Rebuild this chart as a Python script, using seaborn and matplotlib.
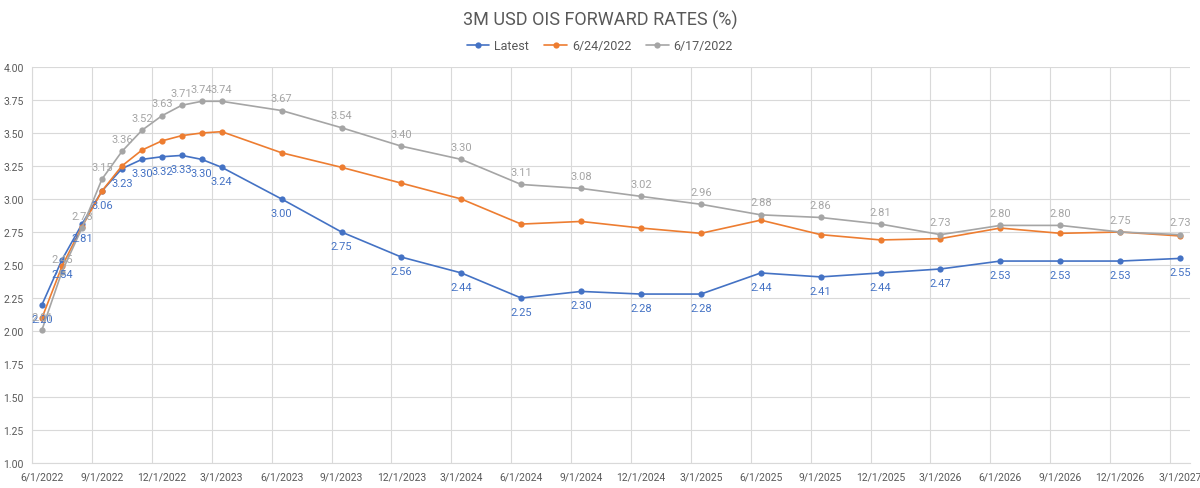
import matplotlib
matplotlib.use("Agg")
import matplotlib.pyplot as plt
import seaborn as sns
import pandas as pd
import numpy as np

dates = ["6/1/2022", "7/1/2022", "8/1/2022", "9/1/2022", "10/1/2022", "11/1/2022",
         "12/1/2022", "1/1/2023", "2/1/2023", "3/1/2023", "6/1/2023", "9/1/2023",
         "12/1/2023", "3/1/2024", "6/1/2024", "9/1/2024", "12/1/2024", "3/1/2025",
         "6/1/2025", "9/1/2025", "12/1/2025", "3/1/2026", "6/1/2026", "9/1/2026",
         "12/1/2026", "3/1/2027"]
latest = [2.20, 2.54, 2.81, 3.06, 3.23, 3.30, 3.32, 3.33, 3.30, 3.24, 3.00, 2.75,
          2.56, 2.44, 2.25, 2.30, 2.28, 2.28, 2.44, 2.41, 2.44, 2.47, 2.53, 2.53,
          2.53, 2.55]
jun24 = [2.10, 2.49, 2.79, 3.06, 3.25, 3.37, 3.44, 3.48, 3.50, 3.51, 3.35, 3.24,
         3.12, 3.00, 2.81, 2.83, 2.78, 2.74, 2.84, 2.73, 2.69, 2.70, 2.78, 2.74,
         2.75, 2.72]
jun17 = [2.01, 2.45, 2.78, 3.15, 3.36, 3.52, 3.63, 3.71, 3.74, 3.74, 3.67, 3.54,
         3.40, 3.30, 3.11, 3.08, 3.02, 2.96, 2.88, 2.86, 2.81, 2.73, 2.80, 2.80,
         2.75, 2.73]
series_names = ["Latest", "6/24/2022", "6/17/2022"]
tick_dates = ["6/1/2022", "9/1/2022", "12/1/2022", "3/1/2023", "6/1/2023", "9/1/2023",
              "12/1/2023", "3/1/2024", "6/1/2024", "9/1/2024", "12/1/2024", "3/1/2025",
              "6/1/2025", "9/1/2025", "12/1/2025", "3/1/2026", "6/1/2026", "9/1/2026",
              "12/1/2026", "3/1/2027"]
y_ticks = [1.00, 1.25, 1.50, 1.75, 2.00, 2.25, 2.50, 2.75, 3.00, 3.25, 3.50, 3.75, 4.00]

colors = {"Latest": "#4472C4", "6/24/2022": "#ED7D31", "6/17/2022": "#A5A5A5"}

sns.set_theme(style="white")
plt.rcParams["font.family"] = ["Roboto", "DejaVu Sans"]


def month_index(s):
    d = pd.to_datetime(s, format="%m/%d/%Y")
    return (d.year - 2022) * 12 + d.month - 6


x = [month_index(d) for d in dates]
df = pd.DataFrame({"x": x * 3,
                   "value": latest + jun24 + jun17,
                   "series": [series_names[0]] * len(x) + [series_names[1]] * len(x)
                   + [series_names[2]] * len(x)})

fig = plt.figure(figsize=(12, 4.89), dpi=100)
ax = fig.add_axes([0.0267, 0.051, 0.965, 0.810])

for i, name in enumerate(series_names):
    sub = df[df["series"] == name]
    sns.lineplot(data=sub, x="x", y="value", ax=ax, color=colors[name], marker="o",
                 markersize=4.5, markeredgewidth=0, linewidth=1.2, label=name,
                 zorder=3 + i)

# data labels
for xi, v in zip(x, latest):
    ax.annotate(f"{v:.2f}", (xi, v), xytext=(0, -10), textcoords="offset points",
                ha="center", va="center", fontsize=8, color="#4472C4", zorder=10)
for xi, v in zip(x, jun17):
    ax.annotate(f"{v:.2f}", (xi, v), xytext=(0, 9), textcoords="offset points",
                ha="center", va="center", fontsize=8, color="#A5A5A5", zorder=10)

tick_pos = [month_index(d) for d in tick_dates]
ax.set_xticks(tick_pos)
ax.set_xticklabels(tick_dates, fontsize=7.5, color="#595959")
ax.set_xticks([p - 0.5 for p in tick_pos], minor=True)
ax.set_xlim(-0.5, 57.5)
ax.set_ylim(1.0, 4.0)
ax.set_yticks(y_ticks)
ax.set_yticklabels([f"{t:.2f}" for t in y_ticks], fontsize=7.5, color="#595959")
ax.tick_params(axis="both", which="both", length=0)
ax.tick_params(axis="x", pad=6)
ax.tick_params(axis="y", pad=6)
ax.grid(False)
ax.grid(True, axis="y", which="major", color="#D9D9D9", linewidth=0.8)
ax.grid(True, axis="x", which="minor", color="#D9D9D9", linewidth=0.8)
ax.set_axisbelow(True)
for s in ["top", "right"]:
    ax.spines[s].set_visible(False)
for s in ["left", "bottom"]:
    ax.spines[s].set_color("#D9D9D9")
    ax.spines[s].set_linewidth(0.8)
ax.set_xlabel("")
ax.set_ylabel("")

leg = ax.legend(loc="center", bbox_to_anchor=(0.5, 0.905), bbox_transform=fig.transFigure,
                ncol=3, frameon=False, fontsize=9, handlelength=1.8, columnspacing=1.2,
                handletextpad=0.4)
for t in leg.get_texts():
    t.set_color("#595959")

fig.text(0.5, 0.958, "3M USD OIS FORWARD RATES (%)", ha="center", va="center",
         fontsize=13, color="#595959")

fig.savefig("out.png", dpi=100)
